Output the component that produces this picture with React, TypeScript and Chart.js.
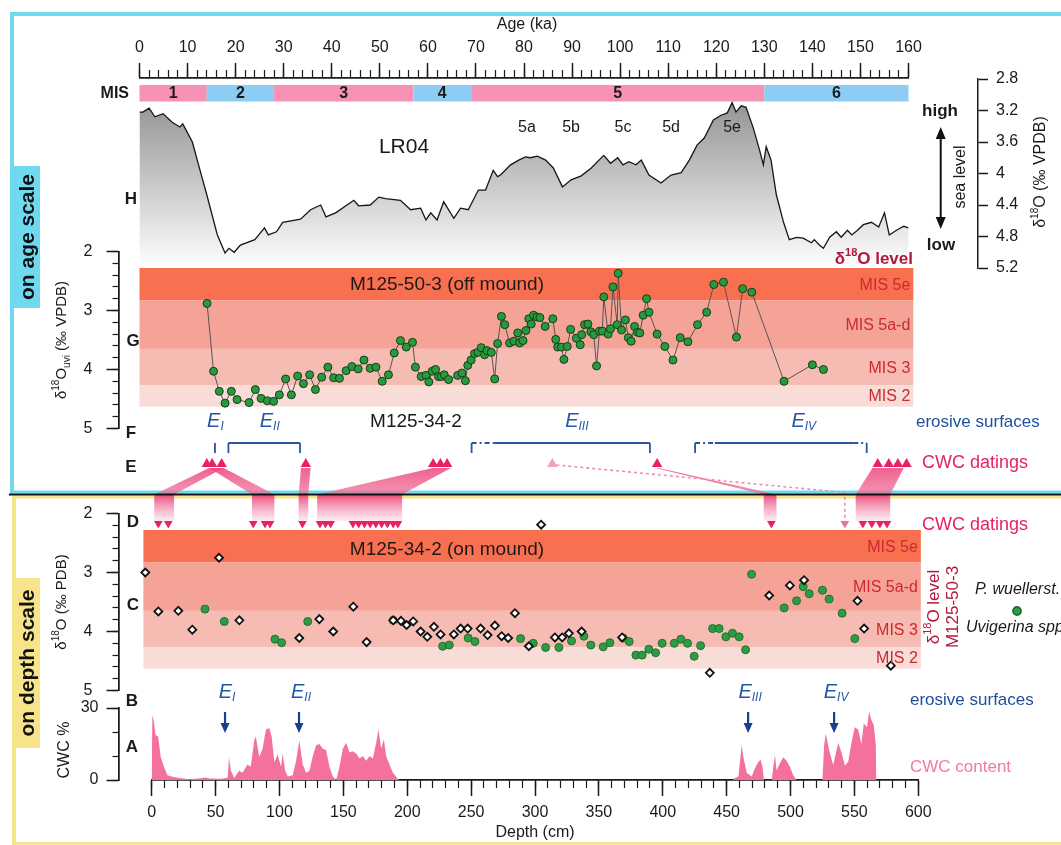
import React, { useEffect, useRef } from 'react';
import { Chart, registerables } from 'chart.js';

Chart.register(...registerables);

const FONT = '"Liberation Sans", Arial, Helvetica, sans-serif';

// ---------------- DATA ----------------
// Marine isotope stages (age scale)
const MIS_LABELS = ['1', '2', '3', '4', '5', '6'];
const MIS_START = [0, 14, 28, 57, 69, 130];
const MIS_END = [14, 28, 57, 69, 130, 160];

// LR04 benthic stack (H)
const LR04_AGE = [0, 0.7, 2, 3.2, 4.9, 6.8, 8.4, 9, 11, 12.6, 14, 16.2, 17.8, 18.6, 19.7, 21, 24, 26, 26.8, 28.5, 29.8, 33.5, 35.6, 37.7, 38.8, 40.8, 44.6, 45.6, 48, 49.8, 51.2, 54.3, 56.4, 58.5, 59.6, 60.6, 61.9, 63.3, 65.4, 66.8, 68.4, 70.5, 72, 73.6, 74.5, 75.1, 77.2, 78.9, 80.3, 81.3, 82.8, 84.5, 86.1, 88, 89.8, 91.9, 94, 95.6, 96.6, 98, 99.5, 100.6, 101.8, 103.3, 104.4, 106, 108.5, 110.6, 112.7, 114.4, 116, 117.5, 119.4, 121, 122.3, 123.3, 124.1, 125.2, 126.2, 127.7, 129.0, 129.8, 130.4, 131.4, 132.5, 134, 135.2, 136.7, 138.1, 139.8, 140.4, 141.5, 142.3, 143.6, 145, 146, 147.3, 148.2, 149.4, 150.6, 152.3, 153.8, 155, 156, 157.5, 159, 160];
const LR04_D18O = [3.22, 3.22, 3.17, 3.28, 3.24, 3.35, 3.41, 3.37, 3.60, 3.96, 4.27, 4.78, 5.01, 4.95, 5.00, 4.91, 4.84, 4.69, 4.78, 4.74, 4.62, 4.58, 4.46, 4.40, 4.55, 4.50, 4.34, 4.41, 4.40, 4.30, 4.32, 4.34, 4.46, 4.44, 4.59, 4.50, 4.59, 4.36, 4.57, 4.44, 4.46, 4.21, 4.21, 3.96, 4.04, 4.02, 3.89, 3.83, 3.79, 3.80, 3.78, 3.83, 3.93, 4.17, 4.08, 4.03, 3.93, 3.83, 3.77, 3.87, 3.80, 3.89, 3.85, 3.89, 3.83, 4.02, 4.12, 4.02, 3.99, 3.83, 3.64, 3.55, 3.32, 3.26, 3.23, 3.10, 3.22, 3.14, 3.16, 3.42, 3.70, 3.89, 3.66, 3.83, 4.27, 4.62, 4.84, 4.81, 4.82, 4.88, 4.84, 4.91, 4.95, 4.81, 4.74, 4.81, 4.72, 4.78, 4.72, 4.65, 4.62, 4.68, 4.50, 4.78, 4.72, 4.67, 4.69];
const SUBSTAGE_LABELS = ['5a', '5b', '5c', '5d', '5e'];
const SUBSTAGE_AGE = [80.6, 89.8, 100.6, 110.6, 123.3];

// M125-50-3 Uvigerina d18O (G)
const OFF_AGE = [14.06, 15.4, 16.6, 17.8, 19.1, 20.3, 22.8, 24.1, 25.3, 26.6, 27.9, 29.1, 30.4, 31.6, 32.9, 34.1, 35.4, 36.6, 37.9, 39.2, 40.4, 41.6, 43.0, 44.2, 45.5, 46.7, 48.0, 49.2, 50.5, 51.8, 53.0, 54.3, 55.5, 56.8, 57.4, 58.6, 59.6, 60.2, 60.9, 61.6, 62.2, 62.8, 63.4, 64.3, 66.2, 67.1, 67.8, 68.3, 69.0, 69.7, 70.4, 71.1, 71.8, 72.3, 73.2, 73.9, 74.5, 75.3, 76.0, 77.0, 77.9, 78.7, 79.1, 79.8, 80.4, 81.0, 81.5, 82.0, 82.7, 83.3, 84.4, 86.0, 86.6, 87.0, 87.8, 88.3, 89.0, 89.7, 90.9, 91.7, 92.0, 92.6, 93.3, 93.9, 94.5, 95.1, 95.7, 96.3, 96.6, 97.5, 98.0, 98.5, 99.4, 99.6, 100.3, 101.1, 101.7, 102.3, 103.0, 103.6, 104.1, 104.8, 105.5, 106.0, 107.7, 109.3, 111.0, 112.5, 114.1, 116.1, 118.0, 119.5, 121.5, 124.2, 125.5, 127.4, 134.1, 140.0, 142.3];
const OFF_D18O = [2.88, 4.03, 4.37, 4.57, 4.37, 4.51, 4.56, 4.34, 4.49, 4.53, 4.54, 4.43, 4.16, 4.43, 4.11, 4.24, 4.09, 4.34, 4.13, 3.96, 4.14, 4.15, 4.02, 3.95, 3.99, 3.84, 3.98, 3.96, 4.20, 4.09, 3.72, 3.51, 3.62, 3.54, 3.96, 4.12, 4.10, 4.21, 4.03, 4.00, 4.12, 4.12, 4.09, 4.17, 4.10, 4.06, 4.19, 3.93, 3.84, 3.73, 3.71, 3.63, 3.75, 3.68, 3.71, 4.16, 3.56, 3.10, 3.24, 3.55, 3.52, 3.38, 3.55, 3.51, 3.34, 3.14, 3.23, 3.08, 3.11, 3.12, 3.27, 3.14, 3.49, 3.62, 3.62, 3.83, 3.61, 3.32, 3.47, 3.58, 3.41, 3.24, 3.23, 3.36, 3.41, 3.94, 3.35, 3.35, 2.77, 3.40, 3.31, 2.60, 3.24, 2.37, 3.33, 3.16, 3.46, 3.52, 3.27, 3.37, 3.38, 3.08, 2.80, 3.03, 3.40, 3.61, 3.84, 3.46, 3.53, 3.24, 3.03, 2.56, 2.52, 3.45, 2.63, 2.69, 4.20, 3.92, 4.00];

// d18O level bands (G and C)
const BAND_LABELS = ['MIS 5e', 'MIS 5a-d', 'MIS 3', 'MIS 2'];
const BAND_LIMITS = [2.28, 2.83, 3.65, 4.27, 4.63];
const BAND_COLORS = ['#f8704f', '#f5a397', '#f6bcb4', '#f8dcd8'];
const AGE_BAND_SPAN = [0, 161];
const DEPTH_BAND_SPAN = [-6.5, 602];

// erosive surfaces
const EROSION_LABELS = ['I', 'II', 'III', 'IV'];
const EROSION_AGE_FROM = [15.7, 18.5, 69.1, 115.6];
const EROSION_AGE_TO = [15.7, 33.4, 106.2, 151.3];
const EROSION_DASH_START = [0, 0, 4.5, 4.1];
const EROSION_DASH_END = [0, 0, 0, 2.8];
const EROSION_LABEL_AGE = [15.8, 27.1, 91.0, 138.2];
const EROSION_DEPTH = [57.4, 115.3, 466.8, 534.1];

// CWC datings
const DATING_AGE = [14.0, 15.1, 17.1, 34.6, 61.1, 62.6, 64.0, 107.7, 153.6, 155.9, 157.8, 159.6];
const DATING_AGE_UNCERTAIN = [85.9];
const DATING_DEPTH = [5.2, 13, 79.5, 88.7, 92.6, 118, 131.7, 136, 140, 157.5, 162, 166.5, 171, 175.5, 180, 184.5, 189, 192.7, 485, 556.6, 563.6, 570, 575.5];
const DATING_DEPTH_UNCERTAIN = [542.5];

// links between datings on age scale and on depth scale
const LINK_AGE_FROM = [14.5, 14.5, 33.6, 61.0, 107.4, 152.5];
const LINK_AGE_TO = [17.5, 17.5, 35.6, 64.8, 108.0, 159.0];
const LINK_DEPTH_FROM = [2, 78.5, 115, 129.5, 479, 551];
const LINK_DEPTH_TO = [17.5, 96, 122.5, 196, 489, 578];

// M125-34-2 d18O (C)
const PW_DEPTH = [-5, 5.2, 20.8, 31.8, 52.7, 68.6, 115.5, 131.2, 142.1, 157.8, 168.2, 189, 195.1, 199.5, 204.7, 210.5, 215.7, 220.9, 226.1, 236.5, 241.8, 247.3, 257.4, 262.9, 268.6, 273.9, 279, 284.3, 295.2, 304.8, 315.6, 321.3, 326.5, 336.5, 368.2, 436.8, 483.3, 499.5, 510.6, 552.4, 557.6, 578.5];
const PW_D18O = [3.00, 3.66, 3.65, 3.97, 2.75, 3.81, 4.11, 3.79, 4.00, 3.58, 4.18, 3.81, 3.82, 3.89, 3.83, 4.00, 4.09, 3.92, 4.05, 4.05, 3.95, 3.95, 3.95, 4.06, 3.90, 4.08, 4.11, 3.69, 4.25, 2.19, 4.10, 4.10, 4.03, 4.00, 4.10, 4.70, 3.39, 3.22, 3.13, 3.48, 3.95, 4.58];
const UV_DEPTH = [41.7, 56.8, 96.5, 101.7, 122.1, 189, 227.7, 232.9, 247.7, 253, 288.7, 298.6, 308.3, 318.7, 328.6, 338.3, 343.7, 353.4, 358.6, 369, 373.7, 379, 383.9, 389.1, 394.4, 399.5, 409, 414.2, 419.4, 424.6, 429.6, 439, 444.1, 449.4, 454.6, 459.8, 464.8, 469.5, 495, 504.7, 509.9, 514.6, 525, 530.2, 540.4, 550.3];
const UV_D18O = [3.62, 3.83, 4.13, 4.19, 3.83, 3.81, 4.25, 4.23, 4.11, 4.17, 4.12, 4.20, 4.27, 4.27, 4.16, 4.08, 4.23, 4.26, 4.19, 4.11, 4.17, 4.40, 4.40, 4.30, 4.36, 4.20, 4.20, 4.13, 4.20, 4.42, 4.24, 3.95, 3.95, 4.09, 4.03, 4.09, 4.31, 3.03, 3.60, 3.48, 3.24, 3.36, 3.30, 3.45, 3.69, 4.12];

// CWC content (A)
const CWC_DEPTH = [0, 0.5, 1.5, 3, 5.1, 7, 9.6, 12.3, 16.2, 21.4, 30, 40, 42, 45, 55, 59.5, 60.5, 62, 64.6, 68.5, 71, 75, 77.5, 80.3, 81.5, 84.2, 86.8, 89.4, 92, 93.9, 96, 98.6, 101.2, 102.5, 104.4, 106.5, 110.4, 113, 115.6, 118.2, 120.9, 123.5, 126.1, 128.7, 131.3, 133.9, 136.5, 139.1, 141.7, 144.4, 147, 149.6, 152.2, 154.8, 157.4, 160, 162.6, 165.3, 167.9, 170.5, 173.1, 175.7, 177.5, 179.6, 181.7, 183.5, 186.1, 188.8, 192.7, 194, 455, 455.3, 459.2, 461.8, 463.1, 465.7, 469.6, 472.2, 474.8, 476.6, 478.2, 479.2, 485.2, 487.8, 489.1, 491.7, 494.3, 496.9, 499.5, 502.1, 504.7, 525, 526.3, 527.6, 530.2, 533.4, 537.3, 539.9, 542.5, 545.1, 547.7, 550.3, 552.9, 555.5, 557.3, 559.9, 561.5, 563.3, 565.1, 566.7, 567.2];
const CWC_PCT = [0, 27, 25, 18.8, 18, 9.7, 5.5, 2, 1.4, 0.8, 0.3, 0.8, 1, 0.6, 0.5, 1, 9.5, 4, 0.8, 4, 3, 6.5, 5.5, 16.7, 18, 9.7, 13, 21, 21.7, 18, 7.5, 10.5, 5.5, 11, 4, 1.5, 2, 8, 16.5, 6.5, 3, 4, 10, 14.5, 15, 13, 12.5, 5.5, 1.5, 0, 5.5, 13, 15.5, 11.5, 12, 11, 9, 10, 8, 10, 9, 15.5, 21, 13, 17, 10, 6.5, 3, 0.4, 0, 0, 0.5, 1.5, 14.6, 9.5, 3, 1.5, 5, 7.5, 8.5, 5, 0, 0, 10.5, 4, 7, 9.5, 8, 5.5, 2, 0, 0, 14.5, 19.4, 12.5, 6.3, 15.5, 11.5, 6, 7.5, 15.5, 22, 21, 15, 23.5, 22, 28.5, 25, 23, 15, 0];

// ---------------- LAYOUT (pixel boxes of the scales: left, top, right, bottom) ----------------
const GEOM: Record<string, number[]> = {
  age: [139.5, 20, 908.5, 78],
  ageMinor: [139.5, 20, 908.5, 78],
  misRow: [139.5, 85, 908.5, 101.5],
  lr04: [978, 79, 1030, 268],
  g: [40, 251.5, 118.5, 428.5],
  gMinor: [40, 251.5, 118.5, 428.5],
  rowF: [139.5, 443, 908.5, 453],
  rowE: [139.5, 458, 908.5, 470],
  rowLink: [139.5, 468, 918.3, 521],
  rowD: [151.7, 518, 918.3, 529],
  c: [40, 513.5, 118.5, 690.5],
  cMinor: [40, 513.5, 118.5, 690.5],
  rowB: [151.7, 712, 918.3, 733],
  a: [40, 708, 118.5, 780],
  aMinor: [40, 708, 118.5, 780],
  depth: [151.7, 780, 918.3, 840],
  depthMinor: [151.7, 780, 918.3, 840],
};

const fontOf = (size: number, style = '') => `${style} ${size}px ${FONT}`.trim();
type Part = { t: string; size: number; style?: string; dy?: number };

function drawParts(ctx: CanvasRenderingContext2D, parts: Part[], x: number, y: number, align: string, color: string, rot = 0) {
  ctx.save();
  ctx.translate(x, y);
  if (rot) ctx.rotate(rot);
  ctx.fillStyle = color;
  ctx.textBaseline = 'middle';
  ctx.textAlign = 'left';
  let w = 0;
  for (const p of parts) { ctx.font = fontOf(p.size, p.style); w += ctx.measureText(p.t).width; }
  let cx = align === 'left' ? 0 : align === 'center' ? -w / 2 : -w;
  for (const p of parts) {
    ctx.font = fontOf(p.size, p.style);
    ctx.fillText(p.t, cx, p.dy || 0);
    cx += ctx.measureText(p.t).width;
  }
  ctx.restore();
}
const txt = (ctx: CanvasRenderingContext2D, t: string, x: number, y: number, size: number, style: string, align: string, color: string, rot = 0) =>
  drawParts(ctx, [{ t, size, style }], x, y, align, color, rot);

const PINK = '#e8206a';
const BLUE = '#1f4e9a';
const DARKRED = '#b3173b';
const BANDTXT = '#cc2a2e';
const CYAN = '#6fd9ef';
const YELLOW = '#f7e48a';

const ok = (...v: number[]) => v.every((n) => Number.isFinite(n));

function eLabel(ctx: CanvasRenderingContext2D, sub: string, x: number, y: number) {
  drawParts(ctx, [{ t: 'E', size: 20, style: 'italic' }, { t: sub, size: 12, style: 'italic', dy: 6 }], x, y, 'center', '#2457a8');
}

function arrowHead(ctx: CanvasRenderingContext2D, x: number, y: number, dir: number, w: number, h: number) {
  ctx.beginPath();
  ctx.moveTo(x, y);
  ctx.lineTo(x - w / 2, y - dir * h);
  ctx.lineTo(x + w / 2, y - dir * h);
  ctx.closePath();
  ctx.fill();
}

const extras = {
  id: 'extras',
  afterLayout(chart: any) {
    for (const id of Object.keys(GEOM)) {
      const s = chart.scales[id];
      if (!s) continue;
      const [l, t, r, b] = GEOM[id];
      s.left = l; s.top = t; s.right = r; s.bottom = b;
      s.width = r - l; s.height = b - t;
      s.configure();
    }
    chart.chartArea = { left: 0, top: 0, right: chart.width, bottom: chart.height, width: chart.width, height: chart.height };
  },
  beforeDraw(chart: any) {
    const ctx: CanvasRenderingContext2D = chart.ctx;
    ctx.save();
    ctx.fillStyle = '#ffffff';
    ctx.fillRect(0, 0, chart.width, chart.height);
    // frames
    ctx.fillStyle = CYAN;
    ctx.fillRect(10, 12, chart.width - 10, 4);
    ctx.fillRect(10, 12, 4, 480);
    ctx.fillRect(10, 490.5, chart.width - 10, 3);
    ctx.fillRect(14, 166, 26, 142);
    ctx.fillStyle = YELLOW;
    ctx.fillRect(12, 495.5, chart.width - 12, 3);
    ctx.fillRect(12, 495.5, 4, 350);
    ctx.fillRect(12, 842, chart.width - 12, 3);
    ctx.fillRect(16, 578, 24, 170);
    ctx.restore();
  },
  beforeDatasetsDraw(chart: any) {
    const ctx: CanvasRenderingContext2D = chart.ctx;
    const S = chart.scales;
    ctx.save();
    // MIS bar
    const mt = S.misRow.getPixelForValue(1), mb = S.misRow.getPixelForValue(0);
    MIS_LABELS.forEach((lab, i) => {
      const x1 = S.age.getPixelForValue(MIS_START[i]);
      const x2 = S.age.getPixelForValue(MIS_END[i]);
      ctx.fillStyle = Number(lab) % 2 === 1 ? '#f791b5' : '#8dcdf4';
      ctx.fillRect(x1, mt, x2 - x1, mb - mt);
    });
    // d18O level bands
    const bands = (xs: any, ys: any, span: number[]) => {
      const x1 = xs.getPixelForValue(span[0]);
      const x2 = xs.getPixelForValue(span[1]);
      for (let i = 0; i < BAND_LABELS.length; i++) {
        const y1 = ys.getPixelForValue(BAND_LIMITS[i]);
        const y2 = ys.getPixelForValue(BAND_LIMITS[i + 1]);
        ctx.fillStyle = BAND_COLORS[i];
        ctx.fillRect(x1, y1, x2 - x1, y2 - y1);
      }
    };
    bands(S.age, S.g, AGE_BAND_SPAN);
    bands(S.depth, S.c, DEPTH_BAND_SPAN);

    // links between age and depth datings
    const L = S.rowLink;
    const yTop = L.getPixelForValue(1), yMid = L.getPixelForValue(0.5), yBot = L.getPixelForValue(0);
    if (ok(yTop, yMid, yBot)) {
      const grad = ctx.createLinearGradient(0, yTop, 0, yBot);
      grad.addColorStop(0, 'rgba(236,70,125,0.85)');
      grad.addColorStop(0.47, 'rgba(240,110,150,0.75)');
      grad.addColorStop(0.5, 'rgba(232,55,112,0.88)');
      grad.addColorStop(1, 'rgba(252,222,232,0.6)');
      ctx.fillStyle = grad;
      for (let i = 0; i < LINK_AGE_FROM.length; i++) {
        const a1 = S.age.getPixelForValue(LINK_AGE_FROM[i]);
        const a2 = S.age.getPixelForValue(LINK_AGE_TO[i]);
        const d1 = S.depth.getPixelForValue(LINK_DEPTH_FROM[i]);
        const d2 = S.depth.getPixelForValue(LINK_DEPTH_TO[i]);
        ctx.beginPath();
        ctx.moveTo(a1, yTop);
        ctx.lineTo(a2, yTop);
        ctx.lineTo(d2, yMid);
        ctx.lineTo(d2, yBot);
        ctx.lineTo(d1, yBot);
        ctx.lineTo(d1, yMid);
        ctx.closePath();
        ctx.fill();
      }
      // uncertain (dotted) link
      ctx.strokeStyle = '#f28cb2';
      ctx.lineWidth = 1.6;
      ctx.setLineDash([3, 3]);
      DATING_AGE_UNCERTAIN.forEach((a, i) => {
        const xa = S.age.getPixelForValue(a);
        const xd = S.depth.getPixelForValue(DATING_DEPTH_UNCERTAIN[i]);
        ctx.beginPath();
        ctx.moveTo(xa + 4, yTop - 3);
        ctx.lineTo(xd, yMid - 2);
        ctx.lineTo(xd, yBot);
        ctx.stroke();
      });
      ctx.setLineDash([]);
    }

    // section boundary line
    ctx.fillStyle = '#111';
    ctx.fillRect(9, 493.5, chart.width - 9, 2);

    // erosive surfaces on age scale (brackets)
    ctx.strokeStyle = '#2b55a3';
    ctx.lineWidth = 1.8;
    const ft = S.rowF.getPixelForValue(1), fb = S.rowF.getPixelForValue(0);
    for (let i = 0; i < EROSION_AGE_FROM.length; i++) {
      const x1 = S.age.getPixelForValue(EROSION_AGE_FROM[i]);
      const x2 = S.age.getPixelForValue(EROSION_AGE_TO[i]);
      ctx.beginPath();
      ctx.moveTo(x1, fb); ctx.lineTo(x1, ft);
      if (x2 !== x1) { ctx.moveTo(x2, ft); ctx.lineTo(x2, fb); }
      ctx.stroke();
      if (x2 === x1) continue;
      const xs = S.age.getPixelForValue(EROSION_AGE_FROM[i] + EROSION_DASH_START[i]);
      const xe = S.age.getPixelForValue(EROSION_AGE_TO[i] - EROSION_DASH_END[i]);
      ctx.beginPath(); ctx.moveTo(xs, ft); ctx.lineTo(xe, ft); ctx.stroke();
      ctx.setLineDash([5, 3, 2, 3]);
      if (xs > x1) { ctx.beginPath(); ctx.moveTo(x1, ft); ctx.lineTo(xs, ft); ctx.stroke(); }
      if (xe < x2) { ctx.beginPath(); ctx.moveTo(xe, ft); ctx.lineTo(x2, ft); ctx.stroke(); }
      ctx.setLineDash([]);
    }
    // erosive surfaces on depth scale (arrows)
    ctx.strokeStyle = '#173f92';
    ctx.fillStyle = '#173f92';
    ctx.lineWidth = 2.2;
    const bt = S.rowB.getPixelForValue(1), bb = S.rowB.getPixelForValue(0);
    EROSION_DEPTH.forEach((d) => {
      const x = S.depth.getPixelForValue(d);
      ctx.beginPath(); ctx.moveTo(x, bt); ctx.lineTo(x, bb - 6); ctx.stroke();
      arrowHead(ctx, x, bb, 1, 9, 10);
    });
    // sea level double arrow
    ctx.strokeStyle = '#111';
    ctx.fillStyle = '#111';
    ctx.lineWidth = 2;
    ctx.beginPath(); ctx.moveTo(940.7, 136); ctx.lineTo(940.7, 220); ctx.stroke();
    arrowHead(ctx, 940.7, 127, -1, 10, 12);
    arrowHead(ctx, 940.7, 229, 1, 10, 12);
    ctx.restore();
  },
  afterDraw(chart: any) {
    const ctx: CanvasRenderingContext2D = chart.ctx;
    const S = chart.scales;
    const R = -Math.PI / 2;
    const K = '#1a1a1a';
    // age scale section
    txt(ctx, 'Age (ka)', 527, 25, 16, '', 'center', K);
    txt(ctx, 'MIS', 129, 93.5, 16, 'bold', 'right', K);
    const mc = (S.misRow.getPixelForValue(0) + S.misRow.getPixelForValue(1)) / 2 + 0.5;
    MIS_LABELS.forEach((lab, i) => {
      const x = (S.age.getPixelForValue(MIS_START[i]) + S.age.getPixelForValue(MIS_END[i])) / 2;
      txt(ctx, lab, x, mc, 16, 'bold', 'center', K);
    });
    txt(ctx, 'LR04', 404, 147, 21, '', 'center', K);
    SUBSTAGE_LABELS.forEach((lab, i) => txt(ctx, lab, S.age.getPixelForValue(SUBSTAGE_AGE[i]), 128, 16, '', 'center', K));
    txt(ctx, 'H', 131, 199, 17, 'bold', 'center', K);
    txt(ctx, 'high', 940, 111, 17, 'bold', 'center', K);
    txt(ctx, 'low', 941, 245, 17, 'bold', 'center', K);
    txt(ctx, 'sea level', 961, 177, 16, '', 'center', K, R);
    drawParts(ctx, [{ t: 'δ', size: 16 }, { t: '18', size: 10, dy: -6 }, { t: 'O (‰ VPDB)', size: 16 }], 1041, 172, 'center', K, R);
    drawParts(ctx, [{ t: 'δ', size: 17, style: 'bold' }, { t: '18', size: 11, style: 'bold', dy: -6 }, { t: 'O level', size: 17, style: 'bold' }], 913, 259, 'right', DARKRED);

    // G
    txt(ctx, 'M125-50-3 (off mound)', 447, 285, 19, '', 'center', K);
    const bandLabels = (xs: any, ys: any, span: number[]) => {
      const xr = xs.getPixelForValue(span[1]) - 3;
      for (let i = 0; i < BAND_LABELS.length; i++) {
        const y = (ys.getPixelForValue(BAND_LIMITS[i]) + ys.getPixelForValue(BAND_LIMITS[i + 1])) / 2 + 1;
        txt(ctx, BAND_LABELS[i], xr, y, 16, '', 'right', BANDTXT);
      }
    };
    bandLabels(S.age, S.g, AGE_BAND_SPAN);
    txt(ctx, 'G', 133, 341, 17, 'bold', 'center', K);
    drawParts(ctx, [{ t: 'δ', size: 15 }, { t: '18', size: 10, dy: -6 }, { t: 'O', size: 15 }, { t: 'uvi', size: 10, dy: 5 }, { t: ' (‰ VPDB)', size: 15 }], 62, 340, 'center', K, R);

    // F / E rows
    txt(ctx, 'F', 131, 433, 17, 'bold', 'center', K);
    txt(ctx, 'E', 131, 467, 17, 'bold', 'center', K);
    txt(ctx, 'M125-34-2', 416, 422, 19, '', 'center', K);
    EROSION_LABELS.forEach((lab, i) => eLabel(ctx, lab, S.age.getPixelForValue(EROSION_LABEL_AGE[i]), 421));
    txt(ctx, 'erosive surfaces', 916, 422, 17, '', 'left', BLUE);
    txt(ctx, 'CWC datings', 922, 463, 18, '', 'left', PINK);

    // depth scale section
    txt(ctx, 'CWC datings', 922, 525, 18, '', 'left', PINK);
    txt(ctx, 'D', 133, 522, 17, 'bold', 'center', K);
    txt(ctx, 'M125-34-2 (on mound)', 447, 550, 19, '', 'center', K);
    bandLabels(S.depth, S.c, DEPTH_BAND_SPAN);
    txt(ctx, 'C', 133, 605, 17, 'bold', 'center', K);
    drawParts(ctx, [{ t: 'δ', size: 15 }, { t: '18', size: 10, dy: -6 }, { t: 'O (‰ PDB)', size: 15 }], 62, 602, 'center', K, R);
    drawParts(ctx, [{ t: 'δ', size: 17 }, { t: '18', size: 11, dy: -6 }, { t: 'O level', size: 17 }], 934, 607, 'center', DARKRED, R);
    txt(ctx, 'M125-50-3', 953, 607, 17, '', 'center', DARKRED, R);
    txt(ctx, 'P. wuellerst.', 975, 590, 16, 'italic', 'left', K);
    txt(ctx, 'Uvigerina spp.', 966, 628, 16, 'italic', 'left', K);
    ctx.save();
    ctx.fillStyle = '#2e9c45';
    ctx.strokeStyle = '#236f30';
    ctx.beginPath(); ctx.arc(1017, 611, 4, 0, Math.PI * 2); ctx.fill(); ctx.stroke();
    ctx.restore();

    txt(ctx, 'B', 132, 701, 17, 'bold', 'center', K);
    txt(ctx, 'A', 132, 747, 17, 'bold', 'center', K);
    EROSION_LABELS.forEach((lab, i) => eLabel(ctx, lab, S.depth.getPixelForValue(EROSION_DEPTH[i]) + 2, 692));
    txt(ctx, 'erosive surfaces', 910, 700, 17, '', 'left', BLUE);
    txt(ctx, 'CWC %', 65, 750, 16, '', 'center', K, R);
    txt(ctx, 'CWC content', 910, 767, 17, '', 'left', '#f07aa5');
    txt(ctx, 'Depth (cm)', 535, 833, 16, '', 'center', K);

    // section labels
    txt(ctx, 'on age scale', 28, 237, 21, 'bold', 'center', '#111', R);
    txt(ctx, 'on depth scale', 28, 663, 21, 'bold', 'center', '#111', R);
  },
};

const tickFont = { family: FONT, size: 16 };
const fmt = (v: any) => String(Number(Number(v).toFixed(2)));
const majorAxis = (axis: string, position: string, min: number, max: number, step: number, tl: number, pad: number, extra: any = {}) => ({
  type: 'linear', axis, position, min, max,
  ticks: { stepSize: step, autoSkip: false, maxRotation: 0, minRotation: 0, padding: pad, color: '#1a1a1a', font: tickFont, callback: fmt },
  grid: { drawOnChartArea: false, drawTicks: true, tickLength: tl, tickWidth: 1.5, tickColor: '#1a1a1a', color: '#1a1a1a' },
  border: { display: true, color: '#1a1a1a', width: 1.5 },
  title: { display: false },
  reverse: !!extra.reverse,
});
const minorAxis = (axis: string, position: string, min: number, max: number, step: number, tl: number, reverse = false) => ({
  type: 'linear', axis, position, min, max, reverse,
  ticks: { stepSize: step, display: false, autoSkip: false },
  grid: { drawOnChartArea: false, drawTicks: true, tickLength: tl, tickWidth: 1.2, tickColor: '#1a1a1a', color: '#1a1a1a' },
  border: { display: true, color: '#1a1a1a', width: 1.5 },
});
const hiddenAxis = () => ({ type: 'linear', axis: 'y', display: false, min: 0, max: 1 });

const pts = (xs: number[], ys: number[]) => xs.map((x, i) => ({ x, y: ys[i] }));
const row = (xs: number[]) => xs.map((x) => ({ x, y: 0.5 }));

export default function App() {
  const ref = useRef<HTMLCanvasElement>(null);
  useEffect(() => {
    if (!ref.current) return;
    Chart.defaults.font.family = FONT;
    const chart = new Chart(ref.current, {
      type: 'line',
      data: {
        datasets: [
          {
            type: 'scatter', label: 'P. wuellerst.', xAxisID: 'depth', yAxisID: 'c', data: pts(PW_DEPTH, PW_D18O),
            pointStyle: 'rectRot', pointRadius: 4, pointBackgroundColor: '#ffffff', pointBorderColor: '#111', pointBorderWidth: 1.8, clip: false,
          },
          {
            type: 'scatter', label: 'Uvigerina spp.', xAxisID: 'depth', yAxisID: 'c', data: pts(UV_DEPTH, UV_D18O),
            pointStyle: 'circle', pointRadius: 4, pointBackgroundColor: '#2e9c45', pointBorderColor: '#23702f', pointBorderWidth: 1, clip: false,
          },
          {
            type: 'scatter', label: 'CWC datings (age)', xAxisID: 'age', yAxisID: 'rowE', data: row(DATING_AGE),
            pointStyle: 'triangle', pointRadius: 6, pointBackgroundColor: PINK, pointBorderWidth: 0, clip: false,
          },
          {
            type: 'scatter', label: 'CWC dating uncertain (age)', xAxisID: 'age', yAxisID: 'rowE', data: row(DATING_AGE_UNCERTAIN),
            pointStyle: 'triangle', pointRadius: 6, pointBackgroundColor: '#f5a0bf', pointBorderWidth: 0, clip: false,
          },
          {
            type: 'scatter', label: 'CWC datings (depth)', xAxisID: 'depth', yAxisID: 'rowD', data: row(DATING_DEPTH),
            pointStyle: 'triangle', pointRotation: 180, pointRadius: 5, pointBackgroundColor: PINK, pointBorderWidth: 0, clip: false,
          },
          {
            type: 'scatter', label: 'CWC dating uncertain (depth)', xAxisID: 'depth', yAxisID: 'rowD', data: row(DATING_DEPTH_UNCERTAIN),
            pointStyle: 'triangle', pointRotation: 180, pointRadius: 5, pointBackgroundColor: '#ef6f9c', pointBorderWidth: 0, clip: false,
          },
          {
            type: 'line', label: 'M125-50-3', xAxisID: 'age', yAxisID: 'g', data: pts(OFF_AGE, OFF_D18O),
            borderColor: '#555555', borderWidth: 1, pointRadius: 4, pointBackgroundColor: '#279a3c', pointBorderColor: '#163d1c',
            pointBorderWidth: 1, tension: 0, fill: false, clip: false,
          },
          {
            type: 'line', label: 'CWC content', xAxisID: 'depth', yAxisID: 'a', data: pts(CWC_DEPTH, CWC_PCT),
            borderWidth: 0, borderColor: 'rgba(0,0,0,0)', pointRadius: 0, backgroundColor: '#f4719f', fill: 'origin', tension: 0, clip: false,
          },
          {
            type: 'line', label: 'LR04', xAxisID: 'age', yAxisID: 'lr04', data: pts(LR04_AGE, LR04_D18O),
            borderColor: '#151515', borderWidth: 1.3, pointRadius: 0, tension: 0, fill: { value: 5.2 },
            backgroundColor: (c: any) => {
              const s = c.chart.scales.lr04;
              if (!s || !ok(s.top, s.bottom) || s.bottom <= s.top) return '#cccccc';
              const gr = c.chart.ctx.createLinearGradient(0, s.top, 0, s.bottom);
              gr.addColorStop(0, '#858585');
              gr.addColorStop(1, '#ffffff');
              return gr;
            },
          },
        ] as any,
      },
      options: {
        responsive: false,
        animation: false,
        devicePixelRatio: 1,
        events: [],
        layout: { padding: 0 },
        plugins: { legend: { display: false }, tooltip: { enabled: false } },
        scales: {
          age: majorAxis('x', 'top', 0, 160, 10, 15, 6),
          ageMinor: minorAxis('x', 'top', 0, 160, 2, 8),
          misRow: hiddenAxis(),
          lr04: majorAxis('y', 'right', 2.8, 5.2, 0.4, 10, 8, { reverse: true }),
          g: majorAxis('y', 'left', 2, 5, 1, 12, 14, { reverse: true }),
          gMinor: minorAxis('y', 'left', 2, 5, 0.2, 6, true),
          rowF: hiddenAxis(),
          rowE: hiddenAxis(),
          rowLink: hiddenAxis(),
          rowD: hiddenAxis(),
          c: majorAxis('y', 'left', 2, 5, 1, 12, 14, { reverse: true }),
          cMinor: minorAxis('y', 'left', 2, 5, 0.2, 6, true),
          rowB: hiddenAxis(),
          a: majorAxis('y', 'left', 0, 30, 30, 12, 8),
          aMinor: minorAxis('y', 'left', 0, 30, 10, 6),
          depth: majorAxis('x', 'bottom', 0, 600, 50, 16, 7),
          depthMinor: minorAxis('x', 'bottom', 0, 600, 10, 8),
        } as any,
      },
      plugins: [extras as any],
    } as any);
    return () => chart.destroy();
  }, []);
  return (
    <div style={{ position: 'absolute', left: 0, top: 0, width: 1061, height: 845, background: '#fff' }}>
      <canvas ref={ref} width={1061} height={845} style={{ display: 'block', width: 1061, height: 845 }} />
    </div>
  );
}
